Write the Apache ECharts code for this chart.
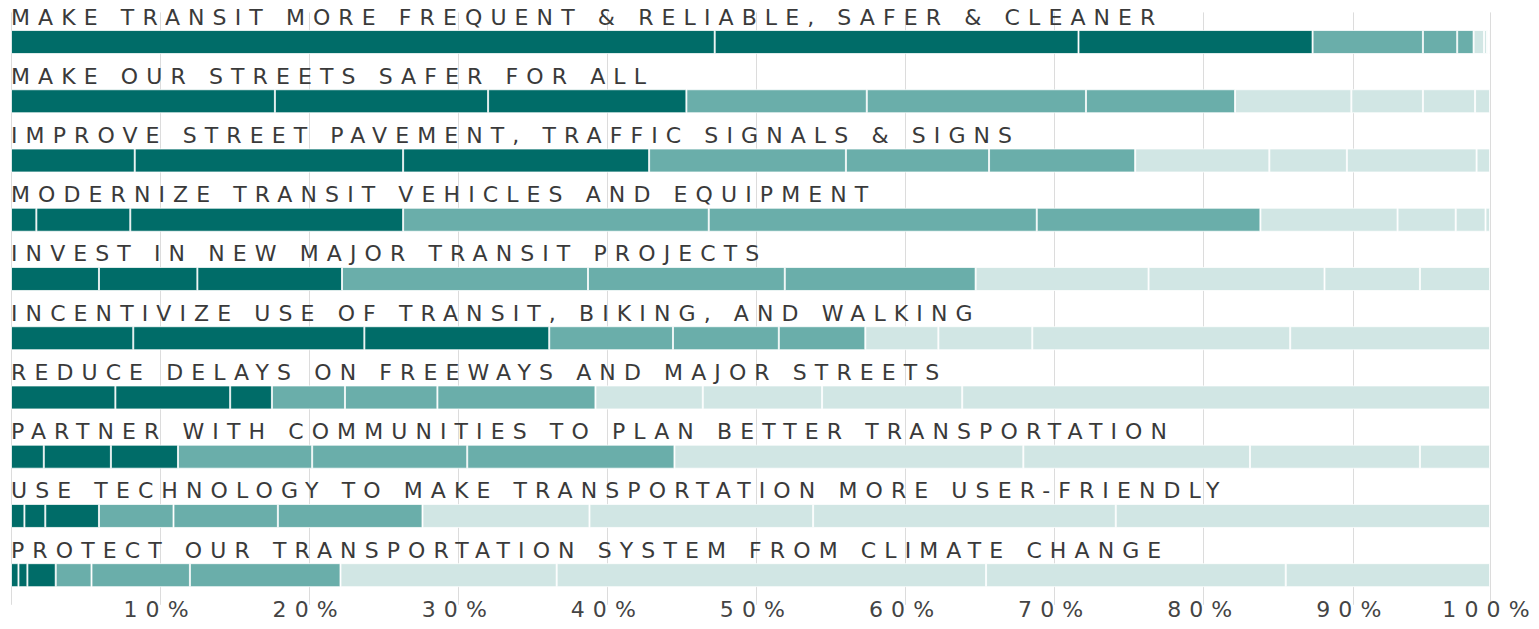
<!DOCTYPE html>
<html>
<head>
<meta charset="utf-8">
<script src="https://cdn.jsdelivr.net/npm/echarts@6/dist/echarts.min.js"></script>
<style>
html, body { margin: 0; padding: 0; background: #ffffff; }
#chart { width: 1539px; height: 629px; }
#chart text { letter-spacing: 8.1px; }
</style>
</head>
<body>
<div id="chart"></div>
<script>
// Categories (top to bottom)
const categories = [
  "MAKE TRANSIT MORE FREQUENT & RELIABLE, SAFER & CLEANER",
  "MAKE OUR STREETS SAFER FOR ALL",
  "IMPROVE STREET PAVEMENT, TRAFFIC SIGNALS & SIGNS",
  "MODERNIZE TRANSIT VEHICLES AND EQUIPMENT",
  "INVEST IN NEW MAJOR TRANSIT PROJECTS",
  "INCENTIVIZE USE OF TRANSIT, BIKING, AND WALKING",
  "REDUCE DELAYS ON FREEWAYS AND MAJOR STREETS",
  "PARTNER WITH COMMUNITIES TO PLAN BETTER TRANSPORTATION",
  "USE TECHNOLOGY TO MAKE TRANSPORTATION MORE USER-FRIENDLY",
  "PROTECT OUR TRANSPORTATION SYSTEM FROM CLIMATE CHANGE"
];

// Share (%) of each rank position, rank 1 .. rank 10, per category
const transitReliable  = [47.2, 24.4, 15.7, 7.4, 2.3, 1.1, 0.7, 0.2, 0.1, 0.1];
const safeStreets      = [17.7, 14.3, 13.3, 12.1, 14.7, 10.0, 7.8, 4.8, 3.5, 1.0];
const streetPavement   = [8.3, 18.0, 16.5, 13.2, 9.6, 9.8, 9.0, 5.2, 8.7, 0.9];
const transitVehicles  = [1.7, 6.3, 18.3, 20.5, 22.0, 15.0, 9.2, 3.9, 2.0, 0.3];
const majorProjects    = [5.9, 6.6, 9.7, 16.5, 13.2, 12.8, 11.6, 11.8, 6.4, 4.7];
const incentivize      = [8.2, 15.5, 12.4, 8.3, 7.1, 5.8, 4.9, 6.3, 17.3, 13.4];
const reduceDelays     = [7.0, 7.7, 2.8, 4.9, 6.2, 10.6, 7.2, 8.0, 9.4, 35.4];
const partnerCommunity = [2.2, 4.5, 4.5, 9.0, 10.4, 13.9, 23.4, 15.2, 11.4, 4.7];
const useTechnology    = [0.9, 1.4, 3.6, 5.0, 7.0, 9.7, 11.2, 15.0, 20.3, 25.1];
const climateChange    = [0.5, 0.6, 1.9, 2.4, 6.6, 10.1, 14.5, 28.8, 20.1, 13.7];

// Axis ticks
const tickInterval = 10;
const axisMax = 99.2;

const rows = [transitReliable, safeStreets, streetPavement, transitVehicles, majorProjects,
              incentivize, reduceDelays, partnerCommunity, useTechnology, climateChange];

const shades = ['#006c68', '#6aaeaa', '#d1e6e4'];
function shadeFor(rank) { return rank < 3 ? shades[0] : (rank < 6 ? shades[1] : shades[2]); }

const series = [];
for (let r = 0; r < 10; r++) {
  series.push({
    type: 'bar',
    name: 'Rank ' + (r + 1),
    stack: 'total',
    barWidth: 24,
    data: rows.map(row => row[r]),
    itemStyle: { color: shadeFor(r), borderColor: 'rgba(255,255,255,0.75)', borderWidth: 1 },
    emphasis: { disabled: true },
    silent: true
  });
}

const chart = echarts.init(document.getElementById('chart'), null, { renderer: 'svg' });
chart.setOption({
  animation: false,
  backgroundColor: '#ffffff',
  grid: { left: 11, right: 49, top: 12.4, bottom: 24.2, containLabel: false, outerBoundsMode: 'none' },
  xAxis: {
    type: 'value',
    min: 0,
    max: axisMax,
    interval: tickInterval,
    axisLine: { show: false },
    axisTick: { show: false },
    splitLine: { show: true, lineStyle: { color: '#dcdcdc', width: 1 } },
    axisLabel: {
      showMaxLabel: true,
      margin: -6,
      fontSize: 22,
      fontFamily: 'DejaVu Sans',
      color: '#444444',
      formatter: function (v) { return v === 0 ? '' : (v > 95 ? '100%' : Math.round(v) + '%'); }
    }
  },
  yAxis: {
    type: 'category',
    data: categories,
    inverse: true,
    axisLine: { show: false },
    axisTick: { show: false },
    splitLine: { show: false },
    axisLabel: {
      inside: true,
      interval: 0,
      align: 'left',
      verticalAlign: 'bottom',
      lineHeight: 50,
      margin: 0,
      fontSize: 22,
      fontFamily: 'DejaVu Sans',
      color: '#3a3a3a'
    },
    z: 5
  },
  series: series
});
</script>
</body>
</html>
